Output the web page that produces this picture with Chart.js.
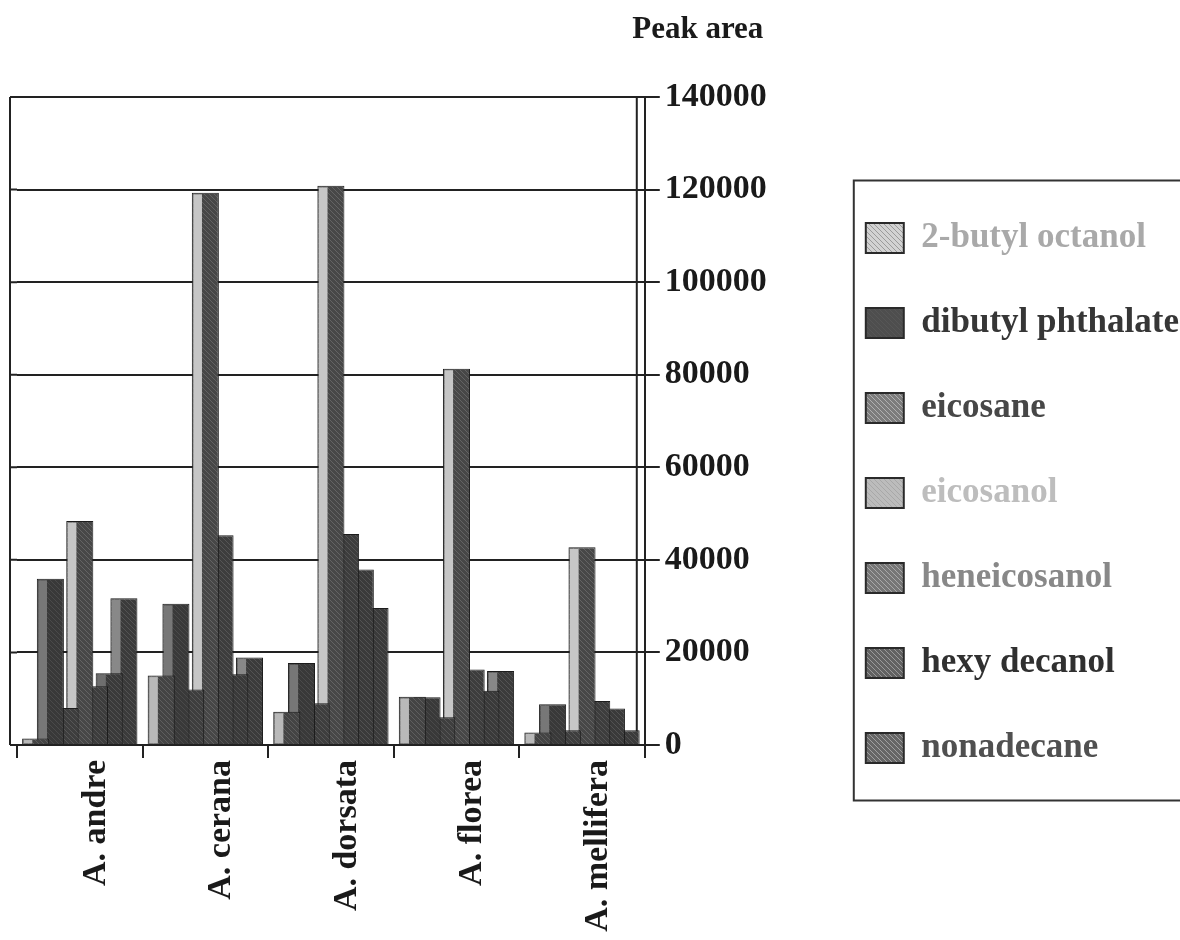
<!DOCTYPE html>
<html>
<head>
<meta charset="utf-8">
<script src="https://cdn.jsdelivr.net/npm/chart.js@4.4.1/dist/chart.umd.min.js"></script>
<style>
html, body { margin: 0; padding: 0; background: #fff; }
#wrap { width: 1180px; height: 940px; }
</style>
</head>
<body>
<div id="wrap"><canvas id="peakChart" width="1180" height="940"></canvas></div>
<script>
const species = ['A. andre', 'A. cerana', 'A. dorsata', 'A. florea', 'A. mellifera'];
const compounds = ['2-butyl octanol', 'dibutyl phthalate', 'eicosane', 'eicosanol', 'heneicosanol', 'hexy decanol', 'nonadecane'];

const butylOctanol     = [1400, 15000, 7200, 10400, 2700];
const dibutylPhthalate = [35900, 30500, 17700, 10300, 8800];
const eicosane         = [8000, 12000, 9000, 6000, 3200];
const eicosanol        = [48400, 119300, 120800, 81300, 42700];
const heneicosanol     = [12700, 45300, 45600, 16300, 9500];
const hexyDecanol      = [15500, 15300, 37900, 11700, 7900];
const nonadecane       = [31700, 18900, 29600, 16000, 3200];

const yTicks = [0, 20000, 40000, 60000, 80000, 100000, 120000, 140000];

const seriesValues = [butylOctanol, dibutylPhthalate, eicosane, eicosanol, heneicosanol, hexyDecanol, nonadecane];

const serif = "'Liberation Serif', 'Times New Roman', serif";

// small fixed speckle tiles, looks a bit like the scanned print
function speckle(base, dot) {
    const c = document.createElement('canvas');
    c.width = 5; c.height = 5;
    const g = c.getContext('2d');
    g.fillStyle = base;
    g.fillRect(0, 0, 5, 5);
    g.fillStyle = dot;
    for (let x = 0; x < 5; x++) {
        for (let y = 0; y < 5; y++) {
            if ((x * 2 + y * 3) % 5 === 0) g.fillRect(x, y, 1, 1);
        }
    }
    return g.createPattern(c, 'repeat');
}

const bodyFills = [
    speckle('#444', '#5e5e5e'),
    speckle('#393939', '#4a4a4a'),
    speckle('#3e3e3e', '#575757'),
    speckle('#474747', '#636363'),
    speckle('#3d3d3d', '#555'),
    speckle('#3a3a3a', '#525252'),
    speckle('#3b3b3b', '#535353')
];
const stripColors = ['#b9b9b9', '#777', '#7e7e7e', '#c6c6c6', '#7a7a7a', '#6e6e6e', '#888'];
const legendFills = [
    speckle('#d2d2d2', '#9a9a9a'),
    speckle('#4e4e4e', '#565656'),
    speckle('#7c7c7c', '#b0b0b0'),
    speckle('#bcbcbc', '#a8a8a8'),
    speckle('#767676', '#a8a8a8'),
    speckle('#626262', '#9a9a9a'),
    speckle('#666', '#a0a0a0')
];
const legendTextColors = ['#a9a9a9', '#363636', '#474747', '#bdbdbd', '#888', '#303030', '#505050'];

// light strip on the left face of each bar, drawn right after its own dataset
const barStrip = {
    id: 'barStrip',
    afterDatasetDraw(chart, args) {
        const ctx = chart.ctx;
        const area = chart.chartArea;
        ctx.save();
        ctx.beginPath();
        ctx.rect(area.left, area.top, area.right - area.left, area.bottom - area.top);
        ctx.clip();
        ctx.fillStyle = stripColors[args.index];
        args.meta.data.forEach(bar => {
            const p = bar.getProps(['x', 'y', 'base', 'width'], true);
            const h = p.base - p.y - 2;
            if (h > 0) ctx.fillRect(p.x - p.width / 2 + 1.5, p.y + 1.5, p.width * 0.32, h);
        });
        ctx.restore();
    }
};

// back wall lines, legend frame and the axis caption
const frame = {
    id: 'frame',
    beforeDatasetsDraw(chart) {
        const ctx = chart.ctx;
        const area = chart.chartArea;
        const y = chart.scales.y;
        ctx.save();
        ctx.strokeStyle = '#222';
        ctx.lineWidth = 2;
        ctx.beginPath();
        yTicks.forEach(v => {
            const py = y.getPixelForValue(v);
            ctx.moveTo(area.left - 7, py);
            ctx.lineTo(area.left, py);
        });
        ctx.moveTo(area.left - 7, area.top);
        ctx.lineTo(area.left - 7, area.bottom);
        ctx.moveTo(area.right - 8, area.top);
        ctx.lineTo(area.right - 8, area.bottom);
        ctx.stroke();
        ctx.restore();
    },
    afterDraw(chart) {
        const ctx = chart.ctx;
        const hb = chart.legend.legendHitBoxes;
        ctx.save();
        ctx.strokeStyle = '#333';
        ctx.lineWidth = 2;
        const l = hb[0].left - 12;
        const t = hb[0].top - 40;
        const b = hb[hb.length - 1].top + 70;
        ctx.strokeRect(l, t, chart.width - l + 10, b - t);
        ctx.fillStyle = '#1a1a1a';
        ctx.font = 'bold 31px ' + serif;
        ctx.textAlign = 'center';
        ctx.textBaseline = 'alphabetic';
        ctx.fillText('Peak area', chart.scales.y.left + 53, 38);
        ctx.restore();
    }
};

const ctx = document.getElementById('peakChart').getContext('2d');
const chart = new Chart(ctx, {
    type: 'bar',
    data: {
        labels: species,
        datasets: compounds.map((name, i) => ({
            label: name,
            data: seriesValues[i],
            backgroundColor: bodyFills[i],
            borderColor: '#1c1c1c',
            borderWidth: 1,
            categoryPercentage: 0.82,
            barPercentage: 1.84
        }))
    },
    options: {
        responsive: false,
        animation: false,
        layout: { padding: { top: 97, bottom: 5, left: 17, right: -9 } },
        plugins: {
            tooltip: { enabled: false },
            legend: {
                position: 'right',
                align: 'start',
                maxWidth: 360,
                title: { display: true, text: ' ', font: { size: 10, lineHeight: '10px' }, padding: { top: 103.5, bottom: 0 } },
                labels: {
                    boxWidth: 38,
                    boxHeight: 30,
                    padding: 10,
                    font: { family: serif, size: 35, weight: 'bold', lineHeight: '75px' },
                    generateLabels: c => c.data.datasets.map((ds, i) => ({
                        text: [ds.label],
                        fillStyle: legendFills[i],
                        strokeStyle: '#2a2a2a',
                        lineWidth: 2,
                        fontColor: legendTextColors[i],
                        datasetIndex: i,
                        hidden: false
                    }))
                }
            }
        },
        scales: {
            x: {
                offset: true,
                grid: { display: true, drawOnChartArea: false, drawTicks: true, tickLength: 13, color: '#222', lineWidth: 2 },
                border: { display: true, color: '#222', width: 2 },
                ticks: {
                    autoSkip: false,
                    minRotation: 90,
                    maxRotation: 90,
                    labelOffset: 16,
                    padding: 2,
                    color: '#1a1a1a',
                    font: { family: serif, size: 34, weight: 'bold' }
                },
                afterFit: s => { s.height = 190; }
            },
            y: {
                position: 'right',
                min: 0,
                max: 140000,
                afterBuildTicks: s => { s.ticks = yTicks.map(v => ({ value: v })); },
                grid: { color: '#222', lineWidth: 2, tickLength: 15 },
                border: { display: true, color: '#222', width: 2 },
                ticks: {
                    padding: 5,
                    color: '#1a1a1a',
                    font: { family: serif, size: 34, weight: 'bold' },
                    callback: v => String(v)
                },
                afterFit: s => { s.width = 211; }
            }
        }
    },
    plugins: [barStrip, frame]
});
</script>
</body>
</html>
